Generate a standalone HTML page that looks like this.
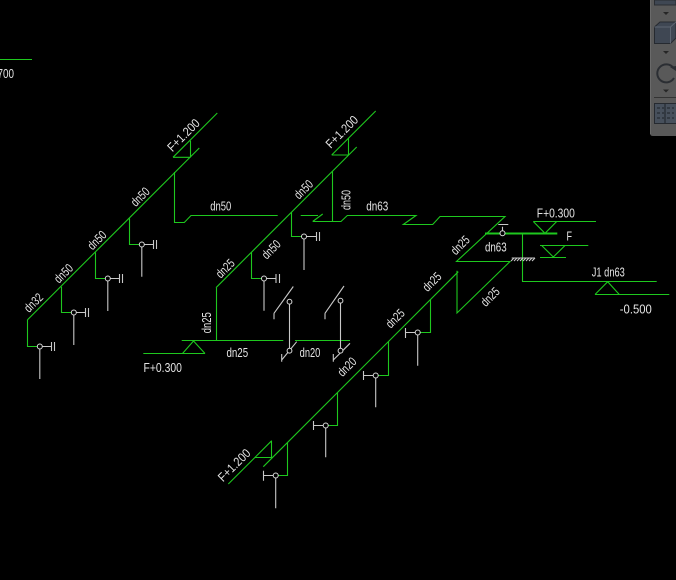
<!DOCTYPE html>
<html><head><meta charset="utf-8"><style>
html,body{margin:0;padding:0;background:#000;}
body{width:676px;height:580px;overflow:hidden;}
svg{display:block;}
text{font-family:"Liberation Sans",sans-serif;font-size:12.5px;fill:#e4e4e4;}
</style></head><body>
<svg width="676" height="580" viewBox="0 0 676 580" xmlns="http://www.w3.org/2000/svg">
<rect width="676" height="580" fill="#000"/>
<!-- green pipes -->
<g fill="none" stroke="#1ec81e" stroke-width="1.1">
<path d="M0,59.5H32"/>
<path d="M27.3,320L199.3,148"/>
<path d="M173,157.3L217.3,113M173,157.3H190.5M190.5,140.7V157.3"/>
<path d="M27.5,320V346.5H37.5M61.5,286.7V312.5H71.5M95.5,252.5V278.5H105.5M129.5,218.5V244.5H139.5"/>
<path d="M174.5,172V222.5H184.3L191,215.5H277.7"/>
<path d="M216,287.7L356.7,147"/>
<path d="M331.7,155L375.7,111M331.7,155H348.5M348.5,137.7V155"/>
<path d="M291.5,212V236.5H301.7M251.5,252.5V278.5H261.7"/>
<path d="M216.5,287.7V340.5M181.7,340.5H283.3M295,340.5H350"/>
<path d="M143.3,353.5H205M193.5,341L182.5,353.5M193.5,341L205,353.5"/>
<path d="M300.7,215.5H318M312.7,221.5L322.7,214M312.7,221.5H341L347.3,215.5H416L403.3,224.5H432.7L440,216.5H505L456.5,261.5H510L457,313V270.7"/>
<path d="M332.5,171V221.5"/>
<path d="M263.3,466.7L458.3,271.7"/>
<path d="M228.3,484L271.7,440.7M255,457.5H271.5M271.5,440.7V457.5"/>
<path d="M287.5,442.5V475.5H278.2M337.5,392.5V425.5H328.2M388.5,341.5V375.5H378.2M430.5,299.5V332.5H420.2"/>
<path d="M485,233.5H557.3" stroke-width="2"/>
<path d="M522.5,233.3V281.5H656.7"/>
<path d="M533.3,221.5H596M533.3,221.5L545,233.3L556.7,221.5"/>
<path d="M540,245.5H588.3M541.7,245.5L553.3,257L565,245.5M540,257.5H566"/>
<path d="M595,294.5H669.3M595,294.5L607.7,281.7L619.3,294.5"/>
</g>
<!-- fixtures -->
<g fill="none" stroke="#c8c8c8" stroke-width="1.1">
<path d="M42.3,346.5H51.5M51.5,342V351M54.5,342V351M39.8,349V379"/>
<path d="M76.3,312.5H85.5M85.5,308V317M88.5,308V317M73.8,315V345"/>
<path d="M110.3,278.5H119.5M119.5,274V283M122.5,274V283M107.8,281V311"/>
<path d="M144.3,244.5H153.5M153.5,240V249M156.5,240V249M141.8,247V276.7"/>
<path d="M306.5,236.5H316.5M316.5,232V241M319.5,232V241M304,239V270"/>
<path d="M266.5,278.5H276M276,274V283M279.5,274V283M264,281V310.7"/>
<path d="M273.2,475.5H263.5M263.5,470.7V480.7M275.7,478V508.3"/>
<path d="M323.2,425.5H313.5M313.5,421V430M325.7,428V457.3"/>
<path d="M373.2,375.5H363.5M363.5,371V380M375.7,378V407.3"/>
<path d="M415.2,332.5H405.5M405.5,328V338M417.7,335V365.7"/>
<path d="M289.5,301.7V350.7M274,313.3L293.3,286.5M274,313.3V319.3M281.7,360L296.7,341.7M281.7,354V361.7"/>
<path d="M340.5,300.7V350.7M325,313.3L344,286M325,313.3V319.3M333.3,360L350,343.3M333.3,354V361.7"/>
<path d="M502.5,226.7V231M498.3,224.5H508.3"/>
<path d="M511.7,258H535M514,258L511,261M517,258L514,261M520,258L517,261M523,258L520,261M526,258L523,261M529,258L526,261M532,258L529,261M535,258L532,261"/>
</g>
<g fill="#000" stroke="#d8d8d8" stroke-width="1">
<circle cx="39.8" cy="346.5" r="2.5"/><circle cx="73.8" cy="312.5" r="2.5"/>
<circle cx="107.8" cy="278.5" r="2.5"/><circle cx="141.8" cy="244.5" r="2.5"/>
<circle cx="304" cy="236.5" r="2.5"/><circle cx="264" cy="278.5" r="2.5"/>
<circle cx="275.7" cy="475.5" r="2.5"/><circle cx="325.7" cy="425.5" r="2.5"/>
<circle cx="375.7" cy="375.5" r="2.5"/><circle cx="417.7" cy="332.5" r="2.5"/>
<circle cx="289.5" cy="301.7" r="2.4"/><circle cx="289.5" cy="350.7" r="2.4"/>
<circle cx="340.5" cy="300.7" r="2.4"/><circle cx="340.5" cy="350.7" r="2.4"/>
<circle cx="502.5" cy="233.3" r="2.5"/>
</g>
<!-- rotated labels -->
<g text-anchor="middle">
<text transform="translate(33.3,302.5) rotate(-45)" y="4.5" textLength="21" lengthAdjust="spacingAndGlyphs">dn32</text>
<text transform="translate(63.3,273.3) rotate(-45)" y="4.5" textLength="21" lengthAdjust="spacingAndGlyphs">dn50</text>
<text transform="translate(96.7,240) rotate(-45)" y="4.5" textLength="21" lengthAdjust="spacingAndGlyphs">dn50</text>
<text transform="translate(140,196.7) rotate(-45)" y="4.5" textLength="21" lengthAdjust="spacingAndGlyphs">dn50</text>
<text transform="translate(183.3,135) rotate(-45)" y="4.5" textLength="40" lengthAdjust="spacingAndGlyphs">F+1.200</text>
<text transform="translate(225,268.3) rotate(-45)" y="4.5" textLength="21" lengthAdjust="spacingAndGlyphs">dn25</text>
<text transform="translate(271,249.3) rotate(-45)" y="4.5" textLength="21" lengthAdjust="spacingAndGlyphs">dn50</text>
<text transform="translate(303.3,189.3) rotate(-45)" y="4.5" textLength="21" lengthAdjust="spacingAndGlyphs">dn50</text>
<text transform="translate(341.7,131.7) rotate(-45)" y="4.5" textLength="40" lengthAdjust="spacingAndGlyphs">F+1.200</text>
<text transform="translate(346.7,366.7) rotate(-45)" y="4.5" textLength="21" lengthAdjust="spacingAndGlyphs">dn20</text>
<text transform="translate(395,318.3) rotate(-45)" y="4.5" textLength="21" lengthAdjust="spacingAndGlyphs">dn25</text>
<text transform="translate(431.7,281.7) rotate(-45)" y="4.5" textLength="21" lengthAdjust="spacingAndGlyphs">dn25</text>
<text transform="translate(234,465) rotate(-45)" y="4.5" textLength="40" lengthAdjust="spacingAndGlyphs">F+1.200</text>
<text transform="translate(460,245) rotate(-45)" y="4.5" textLength="21" lengthAdjust="spacingAndGlyphs">dn25</text>
<text transform="translate(490,296.7) rotate(-45)" y="4.5" textLength="21" lengthAdjust="spacingAndGlyphs">dn25</text>
<text transform="translate(346,200) rotate(-90)" y="4.5" textLength="20" lengthAdjust="spacingAndGlyphs">dn50</text>
<text transform="translate(206.7,322.7) rotate(-90)" y="4.5" textLength="21" lengthAdjust="spacingAndGlyphs">dn25</text>
<!-- horizontal labels -->
<text x="220.7" y="210.5" textLength="21" lengthAdjust="spacingAndGlyphs">dn50</text>
<text x="377.3" y="210.5" textLength="22" lengthAdjust="spacingAndGlyphs">dn63</text>
<text x="237.3" y="357" textLength="21.7" lengthAdjust="spacingAndGlyphs">dn25</text>
<text x="310" y="357" textLength="20.7" lengthAdjust="spacingAndGlyphs">dn20</text>
<text x="162.7" y="372" textLength="38.3" lengthAdjust="spacingAndGlyphs">F+0.300</text>
<text x="495.8" y="251.7" textLength="21.7" lengthAdjust="spacingAndGlyphs">dn63</text>
<text x="555.8" y="217.3" textLength="38" lengthAdjust="spacingAndGlyphs">F+0.300</text>
<text x="569.2" y="240.7" textLength="5.5" lengthAdjust="spacingAndGlyphs">F</text>
<text x="608.3" y="276.7" textLength="33" lengthAdjust="spacingAndGlyphs">J1 dn63</text>
<text x="635.8" y="313.3" textLength="32" lengthAdjust="spacingAndGlyphs">-0.500</text>
</g>
<text x="-2.5" y="78" textLength="16.5" lengthAdjust="spacingAndGlyphs">700</text>
<!-- toolbar -->
<g>
<path d="M650,0H676V136H653Q650,136 650,133Z" fill="#595959"/>
<path d="M650.5,0V134" stroke="#6a6a6a" stroke-width="1"/>
<path d="M654.5,0H676V5H654.5Z" fill="#3f4753" stroke="#2a2d32"/>
<path d="M663,12H669L666,15Z" fill="#262626"/>
<path d="M654.5,27L660,22H676V38L670.5,43.5H654.5Z" fill="#3f4753" stroke="#262a30"/>
<path d="M654.5,27H670.5V43.5M670.5,27L676,22" fill="none" stroke="#5d6672"/>
<path d="M663,51H669L666,54Z" fill="#262626"/>
<path d="M673.5,68A9,9 0 1 0 674,78" fill="none" stroke="#2b2e33" stroke-width="2"/>
<path d="M670,67L676,66L676,71Z" fill="#2b2e33"/>
<path d="M663,89.5H669L666,92.5Z" fill="#262626"/>
<path d="M654,97.5H676" stroke="#333" stroke-width="1"/>
<rect x="654.5" y="103.5" width="22" height="20" fill="#47505c" stroke="#262a30"/>
<path d="M657,108h3M657,113h3M657,118h3M667,108h3M667,113h3M667,118h3M662,108h2M662,113h2M662,118h2M672,108h2M672,113h2M672,118h2M665,104V123" stroke="#1e2228" stroke-width="1"/>
</g>
</svg>
</body></html>
